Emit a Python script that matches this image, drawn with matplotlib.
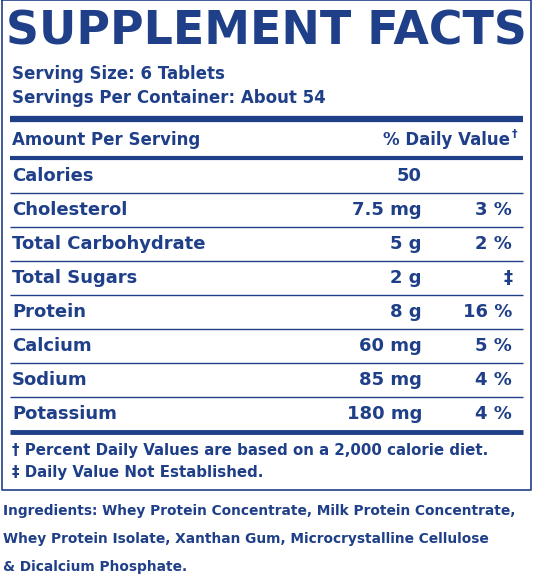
import matplotlib.pyplot as plt

# label content
title = 'SUPPLEMENT FACTS'
serving_lines = ['Serving Size: 6 Tablets', 'Servings Per Container: About 54']
nutrients = ['Calories', 'Cholesterol', 'Total Carbohydrate', 'Total Sugars',
             'Protein', 'Calcium', 'Sodium', 'Potassium']
amounts = ['50', '7.5 mg', '5 g', '2 g', '8 g', '60 mg', '85 mg', '180 mg']
daily_values = ['', '3 %', '2 %', '\u2021', '16 %', '5 %', '4 %', '4 %']
footnotes = ['\u2020 Percent Daily Values are based on a 2,000 calorie diet.',
             '\u2021 Daily Value Not Established.']
ingredients = ['Ingredients: Whey Protein Concentrate, Milk Protein Concentrate,',
               'Whey Protein Isolate, Xanthan Gum, Microcrystalline Cellulose',
               '& Dicalcium Phosphate.']

blue = '#1f3f88'

fig = plt.figure(figsize=(5.33, 5.85), dpi=100)
ax = fig.add_axes([0, 0, 1, 1])
ax.set_xlim(0, 533)
ax.set_ylim(585, 0)
ax.axis('off')

def txt(x, y, s, size, ha='left'):
    ax.text(x, y, s, fontsize=size, ha=ha, va='center', color=blue,
            fontweight='bold', family='DejaVu Sans')

# outer border
ax.plot([2, 2, 531, 531, 2], [0, 490, 490, 0, 0], color=blue, lw=1.2)

ax.text(266, 32, title, fontsize=33, ha='center', va='center', color=blue,
        fontweight='heavy', family='DejaVu Sans')
txt(12, 74, serving_lines[0], 12)
txt(12, 98, serving_lines[1], 12)

ax.plot([10, 523], [119, 119], color=blue, lw=4.5, solid_capstyle='butt')
txt(12, 140, 'Amount Per Serving', 12)
txt(510, 140, '% Daily Value', 12, ha='right')
txt(512, 134, '\u2020', 8)
ax.plot([10, 523], [158, 158], color=blue, lw=3, solid_capstyle='butt')

y0, dy = 176, 34
for i, (n, a, d) in enumerate(zip(nutrients, amounts, daily_values)):
    y = y0 + i * dy
    txt(12, y, n, 13)
    txt(422, y, a, 13, ha='right')
    txt(512, y, d, 13, ha='right')
    if i < len(nutrients) - 1:
        ax.plot([10, 523], [y + 17, y + 17], color=blue, lw=1, solid_capstyle='butt')

ax.plot([10, 523], [432, 432], color=blue, lw=3.5, solid_capstyle='butt')
txt(12, 451, footnotes[0], 10.8)
txt(12, 472, footnotes[1], 10.8)

txt(3, 511, ingredients[0], 9.9)
txt(3, 539, ingredients[1], 9.9)
txt(3, 567, ingredients[2], 9.9)

fig.savefig('out.png', dpi=100)
